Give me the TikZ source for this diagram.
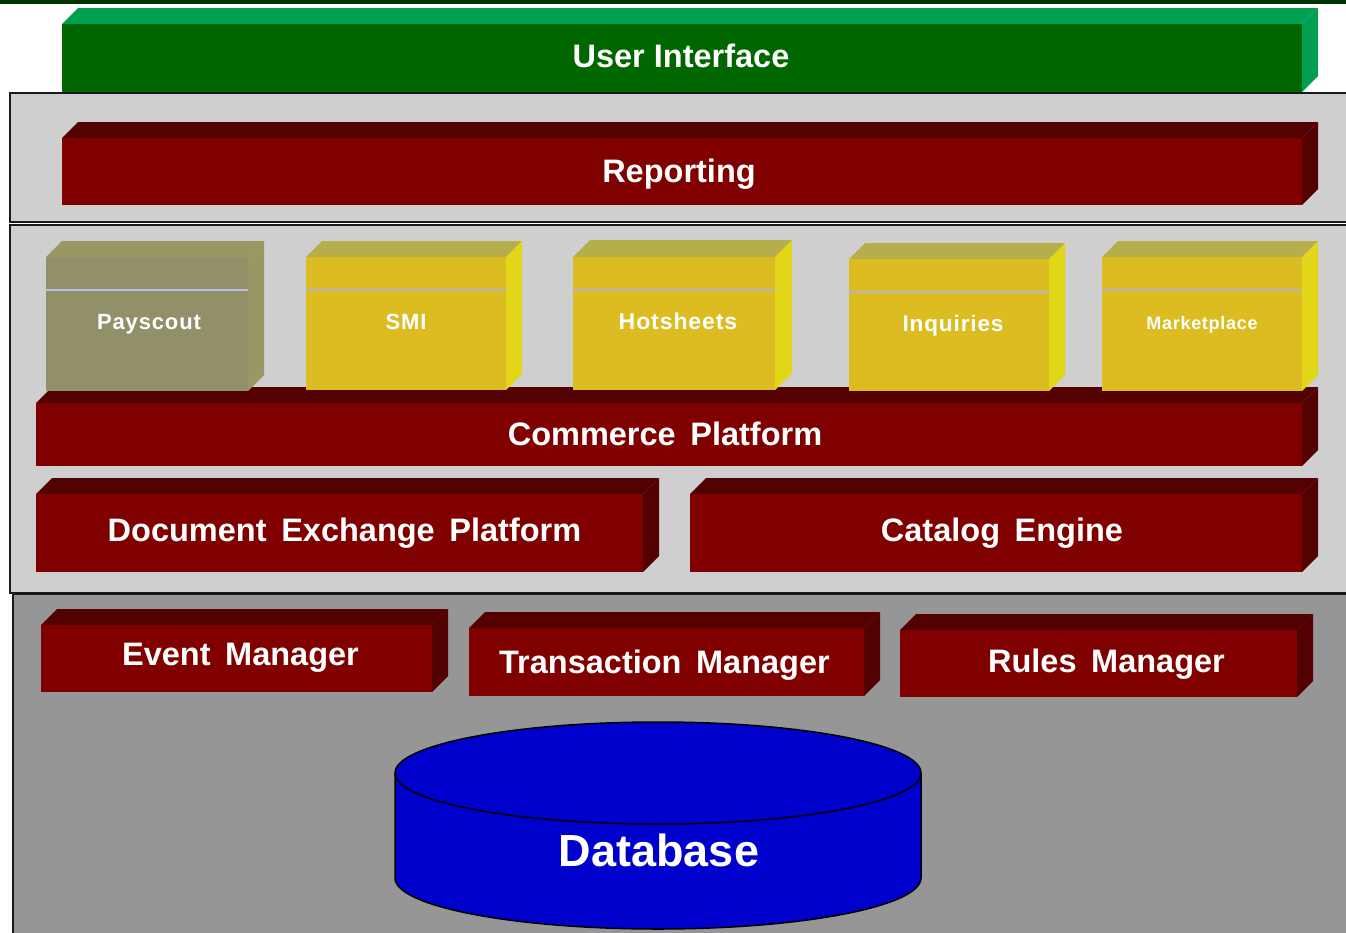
\documentclass[tikz,border=0pt]{standalone}
\usepackage{fontspec}
\setmainfont{Liberation Sans}
\newfontfamily\labelfont[LetterSpace=4]{Liberation Sans}
\usetikzlibrary{calc}
\definecolor{topline}{HTML}{003300}
\definecolor{gfront}{HTML}{006600}
\definecolor{gtop}{HTML}{00A050}
\definecolor{rfront}{HTML}{800000}
\definecolor{rtop}{HTML}{520000}
\definecolor{ofront}{HTML}{929069}
\definecolor{otop}{HTML}{9A9862}
\definecolor{yfront}{HTML}{DCBC20}
\definecolor{ytop}{HTML}{B6AE4A}
\definecolor{yside}{HTML}{E2D618}
\definecolor{divline}{HTML}{B4B4D2}
\definecolor{paneltop}{HTML}{CFCFCF}
\definecolor{panelbot}{HTML}{969696}
\definecolor{dbblue}{HTML}{0000CC}
\newcommand\gap{\hspace{0.45em}}
% shift text by dx (right) and dy (down), keeping the box size
\newcommand\tx[3]{\raisebox{-#2pt}[\height][\depth]{\hspace*{#1pt}#3\hspace*{-#1pt}}}
\newcommand\cubefaces[4]{%
  \fill[#2] (#1.north west) -- ++(#4,-#4) -- ([shift={(#4,-#4)}]#1.north east) -- (#1.north east) -- cycle;
  \fill[#3] (#1.north east) -- ++(#4,-#4) -- ([shift={(#4,-#4)}]#1.south east) -- (#1.south east) -- cycle;
}
\begin{document}
\begin{tikzpicture}[x=1pt,y=-1pt,
  front/.style={inner sep=0pt, outer sep=0pt, text=white, anchor=center,
    font=\bfseries\fontsize{32.5}{38}\selectfont},
  smallbox/.style={front, minimum width=200pt, minimum height=133pt,
    font=\labelfont\bfseries\fontsize{22}{26}\selectfont},
  panel/.style={draw=black!90, line width=1.5pt},
  divider/.style={draw=divline, line width=2pt}]
\useasboundingbox (0,0) rectangle (1346,932);
\clip (0,0) rectangle (1346,932);
\fill[white] (0,0) rectangle (1346,932);
% top line
\fill[topline] (0,0) rectangle (1346,4);
% panels
\path[panel, fill=paneltop] (10,93) rectangle (1356,222);
\path[panel, fill=paneltop] (10,225) rectangle (1356,593);
\path[panel, fill=panelbot] (13,594) rectangle (1356,945);
% User Interface
\node[front, fill=gfront, minimum width=1240pt, minimum height=68pt] (ui) at (682,58) {\tx{-1}{-2}{User Interface}};
\cubefaces{ui}{gtop}{gtop}{16}
% Reporting
\node[front, fill=rfront, minimum width=1240pt, minimum height=67pt] (rep) at (682,171.5) {\tx{-3}{3}{Reporting}};
\cubefaces{rep}{rtop}{rtop}{16}
% Commerce Platform
\node[front, fill=rfront, minimum width=1266pt, minimum height=63pt] (com) at (669,434.5) {\tx{-4}{-1}{Commerce\gap Platform}};
\cubefaces{com}{rtop}{rtop}{16}
% small boxes
\node[smallbox, fill=ofront, minimum width=202pt, minimum height=134pt] (pay) at (147,324) {\tx{2}{0}{Payscout}};
\cubefaces{pay}{otop}{otop}{16}
\draw[divider, draw=divline!80!blue!60] ([shift={(0,33)}]pay.north west) -- ([shift={(0,33)}]pay.north east);
\node[smallbox, fill=yfront] (smi) at (406,323.5) {\tx{0}{-2}{SMI}};
\cubefaces{smi}{ytop}{yside}{16}
\draw[divider] ([shift={(0,33)}]smi.north west) -- ([shift={(0,33)}]smi.north east);
\node[smallbox, fill=yfront, minimum width=202pt, font=\labelfont\bfseries\fontsize{23}{26}\selectfont] (hot) at (674,323.5) {\tx{4}{-2}{Hotsheets}};
\cubefaces{hot}{ytop}{yside}{17}
\draw[divider] ([shift={(0,33)}]hot.north west) -- ([shift={(0,33)}]hot.north east);
\node[smallbox, fill=yfront, minimum height=132pt, font=\labelfont\bfseries\fontsize{22.5}{26}\selectfont] (inq) at (949,325) {\tx{4}{1}{Inquiries}};
\cubefaces{inq}{ytop}{yside}{16}
\draw[divider] ([shift={(0,33)}]inq.north west) -- ([shift={(0,33)}]inq.north east);
\node[smallbox, fill=yfront, minimum height=134pt, font=\labelfont\bfseries\fontsize{18}{22}\selectfont] (mkt) at (1202,324) {\tx{0}{1}{Marketplace}};
\cubefaces{mkt}{ytop}{yside}{16}
\draw[divider] ([shift={(0,33)}]mkt.north west) -- ([shift={(0,33)}]mkt.north east);
% Document Exchange / Catalog
\node[front, fill=rfront, minimum width=607pt, minimum height=78pt] (doc) at (339.5,533) {\tx{5}{0}{Document\gap Exchange\gap Platform}};
\cubefaces{doc}{rtop}{rtop}{16}
\node[front, fill=rfront, minimum width=612pt, minimum height=78pt] (cat) at (996,533) {\tx{6}{0}{Catalog\gap Engine}};
\cubefaces{cat}{rtop}{rtop}{16}
% managers
\node[front, fill=rfront, minimum width=391pt, minimum height=67pt] (evt) at (236.5,658.5) {\tx{4}{-1}{Event\gap Manager}};
\cubefaces{evt}{rtop}{rtop}{16}
\node[front, fill=rfront, minimum width=395pt, minimum height=68pt] (trn) at (666.5,662) {\tx{-2}{3}{Transaction\gap Manager}};
\cubefaces{trn}{rtop}{rtop}{16}
\node[front, fill=rfront, minimum width=397pt, minimum height=67pt] (rul) at (1098.5,663.5) {\tx{8}{1}{Rules\gap Manager}};
\cubefaces{rul}{rtop}{rtop}{16}
% database
\draw[fill=dbblue, draw=black, line width=1.5pt]
  (395,773) -- (395,878) arc[start angle=180, end angle=0, x radius=263, y radius=51]
  -- (921,773) arc[start angle=0, end angle=-180, x radius=263, y radius=51] -- cycle;
\draw[black, line width=1.5pt] (395,773) arc[start angle=180, end angle=0, x radius=263, y radius=51];
\node[text=white, font=\bfseries\fontsize{45}{54}\selectfont] (db) at (659,850) {Database};
\end{tikzpicture}
\end{document}
